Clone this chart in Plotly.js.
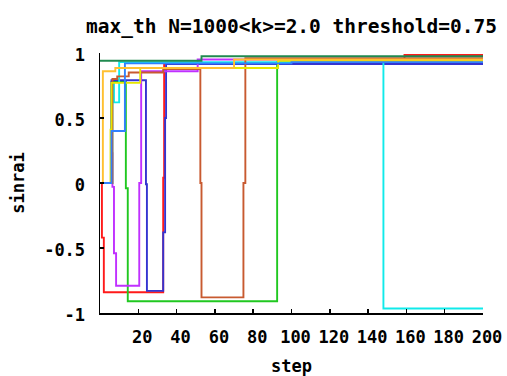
<!DOCTYPE html>
<html>
<head>
<meta charset="utf-8">
<script src="https://cdn.plot.ly/plotly-3.0.1.min.js"></script>
<style>html,body{margin:0;padding:0;background:#fff;}#chart{width:507px;height:376px;}</style>
</head>
<body>
<div id="chart"></div>
<script>
// Step-change points of each run (value holds until the next step)
const redSteps = [0, 1, 2, 33, 33.5, 139, 159, 200];
const redVals  = [0, -0.42, -0.84, 0.04, 0.92, 0.94, 0.985, 0.985];

const greenSteps = [0, 6, 13.5, 14.5, 92.5, 200];
const greenVals  = [0, 0.78, -0.04, -0.91, 0.93, 0.93];

const blueSteps = [0, 6, 24, 24.5, 33, 34, 34.5, 200];
const blueVals  = [0, 0.79, -0.01, -0.83, -0.38, 0.5, 0.915, 0.915];

const magentaSteps = [0, 6, 6.5, 7.3, 8.4, 20.5, 21.5, 51, 200];
const magentaVals  = [0, 0.23, -0.03, -0.54, -0.79, 0.0, 0.86, 0.95, 0.95];

const cyanSteps = [0, 6.5, 7.3, 10, 148, 200];
const cyanVals  = [0, 0.77, 0.62, 0.93, -0.965, -0.965];

const siennaSteps = [0, 6.5, 9, 15, 33, 52.4, 53, 74.9, 75.9, 200];
const siennaVals  = [0, 0.80, 0.82, 0.85, 0.877, 0.0, -0.88, 0.0, 0.96, 0.96];

const yellowSteps = [0, 5.5, 6, 21, 93, 200];
const yellowVals  = [0, 0.41, 0.77, 0.885, 0.94, 0.94];

const lightBlueSteps = [0, 6, 13, 100, 200];
const lightBlueVals  = [0, 0.4, 0.92, 0.93, 0.93];

const goldSteps = [0, 1.5, 8, 70, 200];
const goldVals  = [0, 0.86, 0.885, 0.95, 0.95];

const darkGreenSteps = [0, 53, 200];
const darkGreenVals  = [0.94, 0.975, 0.975];

const xTicks = [20, 40, 60, 80, 100, 120, 140, 160, 180, 200];
const xTickText = xTicks.map(v => String(v));
const yTicks = [-1, -0.5, 0, 0.5, 1];
const yTickText = ['-1', '-0.5', '0', '0.5', '1'];

const series = [
  [redSteps, redVals, '#ff1a1a'],
  [greenSteps, greenVals, '#20c820'],
  [blueSteps, blueVals, '#3434d0'],
  [magentaSteps, magentaVals, '#c030ff'],
  [cyanSteps, cyanVals, '#10eaea'],
  [siennaSteps, siennaVals, '#c85a30'],
  [yellowSteps, yellowVals, '#e6e600'],
  [lightBlueSteps, lightBlueVals, '#3080ff'],
  [goldSteps, goldVals, '#ffc030'],
  [darkGreenSteps, darkGreenVals, '#208a50']
];

const traces = series.map(s => ({
  x: s[0], y: s[1], type: 'scatter', mode: 'lines',
  line: {shape: 'hv', color: s[2], width: 1.9},
  hoverinfo: 'skip', showlegend: false
}));

const F = {family: '"DejaVu Sans Mono", monospace', size: 17, color: '#000', weight: 700};
const FT = {family: '"DejaVu Sans Mono", monospace', size: 19.5, color: '#000', weight: 700};

const layout = {
  width: 507, height: 376,
  margin: {l: 100, r: 24, t: 53, b: 63},
  paper_bgcolor: '#fff', plot_bgcolor: '#fff',
  showlegend: false,
  font: F,
  title: {text: 'max_th N=1000&lt;k&gt;=2.0 threshold=0.75', font: FT, xref: 'paper', x: 0.5, xanchor: 'center', yref: 'container', y: 0.93, yanchor: 'middle'},
  xaxis: {
    range: [0, 200], showline: true, linecolor: '#000', linewidth: 1.5, mirror: false,
    ticks: 'inside', ticklen: 4, tickwidth: 1.5, tickcolor: '#000',
    tickvals: xTicks, ticktext: xTickText, tickfont: F, tickangle: 0, ticklabelshift: 4, ticklabelstandoff: 8,
    showgrid: false, zeroline: false,
    title: {text: 'step', font: F, standoff: 16}
  },
  yaxis: {
    range: [-1, 1], showline: true, linecolor: '#000', linewidth: 1.5, mirror: false,
    ticks: 'inside', ticklen: 4, tickwidth: 1.5, tickcolor: '#000',
    tickvals: yTicks, ticktext: yTickText, tickfont: F, ticklabelstandoff: 10, ticklabelshift: 2,
    showgrid: false, zeroline: false,
    title: {text: 'sinrai', font: F, standoff: 15}
  }
};

Plotly.newPlot('chart', traces, layout, {staticPlot: true, displayModeBar: false});
</script>
</body>
</html>
